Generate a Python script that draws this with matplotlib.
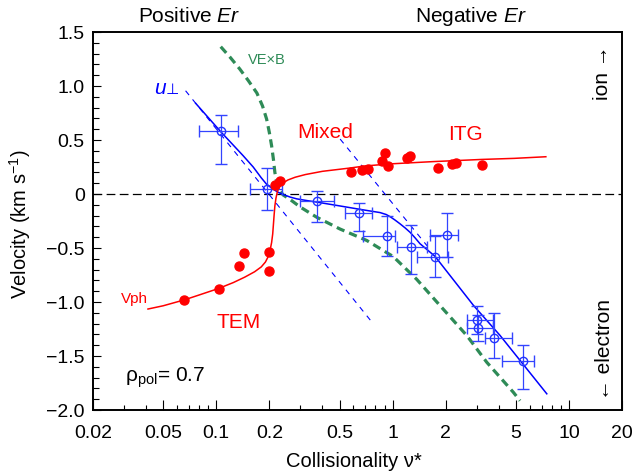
import matplotlib
matplotlib.use('Agg')
import matplotlib.pyplot as plt
from matplotlib.ticker import FixedLocator, FixedFormatter, LogLocator, NullFormatter, MultipleLocator

plt.rcParams['font.family'] = ['Liberation Sans', 'DejaVu Sans']
plt.rcParams['mathtext.fontset'] = 'custom'
plt.rcParams['mathtext.rm'] = 'Liberation Sans'
plt.rcParams['mathtext.it'] = 'Liberation Sans:italic'
plt.rcParams['mathtext.bf'] = 'Liberation Sans:bold'

# phase velocity of the fluctuations (red dots)
vph_nu = [0.066, 0.103, 0.135, 0.144, 0.198, 0.200, 0.216, 0.230,
          0.578, 0.674, 0.730, 0.870, 0.906, 0.940, 1.20, 1.26,
          1.80, 2.17, 2.28, 3.23]
vph_vel = [-0.98, -0.88, -0.67, -0.55, -0.71, -0.54, 0.08, 0.12,
           0.20, 0.22, 0.23, 0.31, 0.38, 0.26, 0.33, 0.35,
           0.24, 0.28, 0.29, 0.27]

# guide curve through the phase velocity
vph_fit_nu = [0.041, 0.05, 0.066, 0.08, 0.103, 0.125, 0.145, 0.165, 0.18, 0.19,
              0.197, 0.202, 0.206, 0.209, 0.211, 0.213, 0.215, 0.218, 0.222,
              0.228, 0.238, 0.255, 0.28, 0.32, 0.4, 0.57, 0.7, 1.0, 1.7, 3.2,
              4.9, 7.4]
vph_fit_vel = [-1.065, -1.035, -0.98, -0.935, -0.875, -0.82, -0.77, -0.72, -0.675, -0.63,
               -0.58, -0.52, -0.45, -0.37, -0.28, -0.19, -0.11, -0.04, 0.02,
               0.065, 0.10, 0.13, 0.155, 0.18, 0.21, 0.24, 0.26, 0.28, 0.30, 0.32,
               0.33, 0.345]

# perpendicular flow u_perp with error bars
u_nu = [0.106, 0.193, 0.374, 0.643, 0.927, 1.27, 1.74, 2.03, 3.03, 3.07, 3.77, 5.47]
u_nu_lo = [0.080, 0.156, 0.299, 0.537, 0.683, 1.057, 1.381, 1.63, 2.63, 2.63, 3.35, 4.19]
u_nu_hi = [0.133, 0.235, 0.468, 0.762, 1.033, 1.563, 2.07, 2.36, 3.73, 3.73, 4.78, 6.37]
u_vel = [0.58, 0.05, -0.065, -0.176, -0.386, -0.49, -0.58, -0.38, -1.17, -1.24, -1.33, -1.55]
u_vel_lo = [0.28, -0.15, -0.26, -0.34, -0.57, -0.74, -0.77, -0.58, -1.30, -1.36, -1.52, -1.81]
u_vel_hi = [0.73, 0.24, 0.03, -0.08, -0.20, -0.29, -0.39, -0.18, -1.04, -1.12, -1.10, -1.40]

u_fit_nu = [0.0764, 0.106, 0.142, 0.162, 0.18, 0.193, 0.21, 0.225, 0.240, 0.262,
            0.286, 0.33, 0.372, 0.5, 0.643, 0.75, 0.849, 0.92, 0.968, 1.03, 1.10,
            1.18, 1.257, 1.34, 1.43, 1.74, 2.87, 4.07, 7.49]
u_fit_vel = [0.84, 0.577, 0.355, 0.25, 0.15, 0.09, 0.045, 0.015, -0.005, -0.028,
             -0.045, -0.062, -0.075, -0.11, -0.14, -0.158, -0.172, -0.19, -0.21, -0.24, -0.275,
             -0.315, -0.355, -0.405, -0.46, -0.577, -1.03, -1.31, -1.85]

# thin dashed straight guides
guide1_nu = [0.067, 0.752]
guide1_vel = [0.956, -1.173]
guide2_nu = [0.504, 1.57]
guide2_vel = [0.509, -0.48]

# E x B velocity
exb_nu = [0.106, 0.12, 0.136, 0.152, 0.170, 0.183, 0.193, 0.200, 0.206, 0.211,
          0.215, 0.220, 0.227, 0.240, 0.262, 0.299, 0.372, 0.503, 0.713, 1.01,
          1.37, 1.86, 2.64, 3.42, 4.84, 5.28]
exb_vel = [1.364, 1.265, 1.157, 1.05, 0.935, 0.815, 0.694, 0.57, 0.447, 0.32,
           0.2, 0.11, 0.04, -0.01, -0.05, -0.12, -0.216, -0.324, -0.43, -0.58,
           -0.79, -1.034, -1.312, -1.558, -1.836, -1.914]

x_ticks = [0.02, 0.05, 0.1, 0.2, 0.5, 1, 2, 5, 10, 20]
x_tick_labels = ['0.02', '0.05', '0.1', '0.2', '0.5', '1', '2', '5', '10', '20']
y_ticks = [1.5, 1.0, 0.5, 0, -0.5, -1.0, -1.5, -2.0]
y_tick_labels = ['1.5', '1.0', '0.5', '0', '\u22120.5', '\u22121.0', '\u22121.5', '\u22122.0']

red = '#ff0000'
blue = '#0000ff'
green = '#2e8b57'

fig = plt.figure(figsize=(6.32, 4.77), dpi=100)
ax = fig.add_axes([93 / 632, 1 - 411 / 477, 529 / 632, 378 / 477])
ax.set_xscale('log')
ax.set_xlim(0.02, 20)
ax.set_ylim(-2.0, 1.5)

ax.axhline(0, color='black', lw=0.9, ls=(0, (7, 3.5)), zorder=1)

ax.plot(exb_nu, exb_vel, color=green, lw=2.3, ls=(0, (2.6, 1.6)), zorder=2)
ax.plot(guide1_nu, guide1_vel, color=blue, lw=0.8, ls=(0, (5, 5)), zorder=2)
ax.plot(guide2_nu, guide2_vel, color=blue, lw=0.8, ls=(0, (5, 5)), zorder=2)
ax.plot(u_fit_nu, u_fit_vel, color=blue, lw=1.1, zorder=3)
ax.plot(vph_fit_nu, vph_fit_vel, color=red, lw=1.1, zorder=3)

xerr = [[c - lo for c, lo in zip(u_nu, u_nu_lo)], [hi - c for c, hi in zip(u_nu, u_nu_hi)]]
yerr = [[c - lo for c, lo in zip(u_vel, u_vel_lo)], [hi - c for c, hi in zip(u_vel, u_vel_hi)]]
ax.errorbar(u_nu, u_vel, xerr=xerr, yerr=yerr, fmt='o', ms=6, mfc='none', mec='#2233ff',
            mew=1.0, ecolor='#3344ff', elinewidth=0.9, capsize=4.3, capthick=0.9, zorder=4)

ax.plot(vph_nu, vph_vel, 'o', color=red, ms=6.5, zorder=5)

ax.xaxis.set_major_locator(FixedLocator(x_ticks))
ax.xaxis.set_major_formatter(FixedFormatter(x_tick_labels))
ax.xaxis.set_minor_locator(LogLocator(base=10, subs=[2, 3, 4, 5, 6, 7, 8, 9]))
ax.xaxis.set_minor_formatter(NullFormatter())
ax.yaxis.set_major_locator(FixedLocator(y_ticks))
ax.yaxis.set_major_formatter(FixedFormatter(y_tick_labels))
ax.yaxis.set_minor_locator(MultipleLocator(0.1))

ax.tick_params(axis='both', which='both', direction='in', top=False, right=False,
               width=0.8, labelsize=14)
ax.tick_params(axis='x', which='major', length=7, pad=10)
ax.tick_params(axis='x', which='minor', length=3.6)
ax.tick_params(axis='y', which='major', length=6, pad=6)
ax.tick_params(axis='y', which='minor', length=4)
for s in ax.spines.values():
    s.set_linewidth(1.4)

fig.text(20 / 632, 1 - 224 / 477, r'Velocity (km s$^{-1}$)', rotation=90,
         ha='center', va='center', fontsize=14.5)
fig.text(354 / 632, 1 - 462 / 477, 'Collisionality \u03bd*', ha='center', va='center',
         fontsize=14.5)

fig.text(189 / 632, 1 - 16 / 477, r'Positive $\mathit{Er}$', ha='center', va='center', fontsize=15)
fig.text(471 / 632, 1 - 16 / 477, r'Negative $\mathit{Er}$', ha='center', va='center', fontsize=15)

fig.text(603 / 632, 1 - 73 / 477, 'ion \u2192', rotation=90, ha='center', va='center', fontsize=15)
fig.text(605 / 632, 1 - 350 / 477, '\u2190 electron', rotation=90, ha='center', va='center', fontsize=15)

fig.text(325 / 632, 1 - 133 / 477, 'Mixed', color=red, ha='center', va='center', fontsize=15)
fig.text(465 / 632, 1 - 135 / 477, 'ITG', color=red, ha='center', va='center', fontsize=15)
fig.text(239 / 632, 1 - 323 / 477, 'TEM', color=red, ha='center', va='center', fontsize=15)
fig.text(134 / 632, 1 - 299 / 477, 'Vph', color=red, ha='center', va='center', fontsize=11)
# u_perp label: italic u followed by the perpendicular sign
fig.text(166 / 632, 1 - 89 / 477, 'u', color=blue, style='italic', ha='right', va='center',
         fontsize=15)
fig.text(166 / 632, 1 - 90 / 477, '\u22a5', color=blue, family='DejaVu Sans', ha='left',
         va='center', fontsize=11)
fig.text(267 / 632, 1 - 60 / 477, 'VE\u00d7B', color=green, ha='center', va='center', fontsize=10.5)
fig.text(125 / 632, 1 - 378 / 477, '\u03c1$_{\\mathregular{pol}}$= 0.7', ha='left', va='center',
         fontsize=15)

fig.savefig('out.png', dpi=100)
